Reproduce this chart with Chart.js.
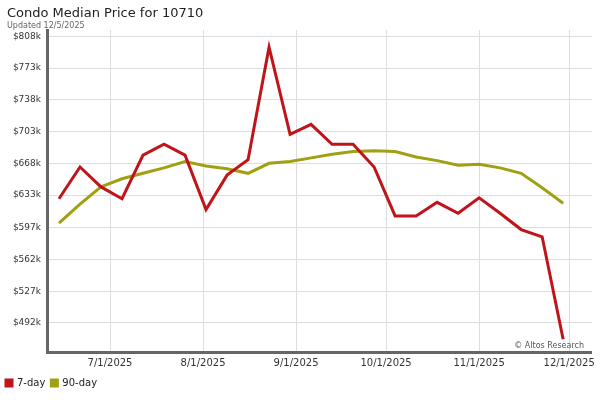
<!DOCTYPE html>
<html>
<head>
<meta charset="utf-8">
<script src="https://cdn.jsdelivr.net/npm/chart.js@4/dist/chart.umd.min.js"></script>
<style>
  body{margin:0;background:#fff;font-family:"DejaVu Sans",sans-serif;}
  #title{position:absolute;left:7px;top:5px;font-size:13px;color:#222;}
  #updated{position:absolute;left:7px;top:21px;font-size:8px;color:#666;}
  #wrap{position:absolute;left:0;top:0;width:600px;height:400px;}
</style>
</head>
<body>
<div id="wrap"><canvas id="c" width="600" height="400"></canvas></div>
<div id="title">Condo Median Price for 10710</div>
<div id="updated">Updated 12/5/2025</div>
<script>
// weekly dates
const dates = ["2025-06-14","2025-06-21","2025-06-28","2025-07-05","2025-07-12","2025-07-19","2025-07-26",
  "2025-08-02","2025-08-09","2025-08-16","2025-08-23","2025-08-30","2025-09-06","2025-09-13","2025-09-20",
  "2025-09-27","2025-10-04","2025-10-11","2025-10-18","2025-10-25","2025-11-01","2025-11-08","2025-11-15",
  "2025-11-22","2025-11-29"];
// values in $k
const sevenDay = [629,664,642,629,677,689,677,617,655,672,796,700,711,689,689,664,610,610,625,613,630,613,595,587,474];
const ninetyDay = [602,623,642,651,657,663,670,665,662,657,668,670,674,678,681,682,681,675,671,666,667,663,657,641,624];

const xTickDates = ["2025-07-01","2025-08-01","2025-09-01","2025-10-01","2025-11-01","2025-12-01"];
const xTickLabels = ["7/1/2025","8/1/2025","9/1/2025","10/1/2025","11/1/2025","12/1/2025"];
const yTickValues = [492,527,562,597,633,668,703,738,773,808];
const yTickLabels = ["$492k","$527k","$562k","$597k","$633k","$668k","$703k","$738k","$773k","$808k"];

function dayNum(s){
  return (Date.parse(s + "T00:00:00Z") - Date.UTC(2025,0,1)) / 86400000;
}
const xDays = dates.map(dayNum);
const xTicks = xTickDates.map(dayNum);

const copyright = {
  id: "copyright",
  afterDraw(chart){
    const {ctx, chartArea} = chart;
    ctx.save();
    ctx.font = "8px 'DejaVu Sans'";
    ctx.fillStyle = "#555";
    ctx.textAlign = "right";
    ctx.fillText("© Altos Research", chartArea.right - 8, chartArea.bottom - 6);
    ctx.restore();
  }
};

new Chart(document.getElementById("c"), {
  type: "line",
  data: {
    datasets: [
      {label: "7-day", data: xDays.map((x,i)=>({x, y: sevenDay[i]})), borderColor: "#c0141b", backgroundColor: "#c0141b", borderWidth: 3, pointRadius: 0, tension: 0},
      {label: "90-day", data: xDays.map((x,i)=>({x, y: ninetyDay[i]})), borderColor: "#a0a012", backgroundColor: "#a0a012", borderWidth: 3, pointRadius: 0, tension: 0}
    ]
  },
  options: {
    responsive: false,
    animation: false,
    layout: {padding: {top: 30, right: 5, left: 0, bottom: 2}},
    plugins: {
      legend: {
        position: "bottom", align: "start",
        labels: {boxWidth: 6, boxHeight: 6, font: {size: 10, family: "DejaVu Sans"}, color: "#222", padding: 6}
      },
      tooltip: {enabled: false}
    },
    scales: {
      x: {
        type: "linear", min: 160, max: 341.6,
        afterBuildTicks: axis => { axis.ticks = xTicks.map(v => ({value: v})); },
        afterFit: axis => { axis.height = 20; },
        ticks: {callback: (v) => xTickLabels[xTicks.indexOf(v)], font: {size: 10, family: "DejaVu Sans"}, color: "#333", maxRotation: 0, padding: 5},
        grid: {color: "#dddddd", drawTicks: false},
        border: {color: "#666", width: 3}
      },
      y: {
        min: 460, max: 815,
        afterBuildTicks: axis => { axis.ticks = yTickValues.map(v => ({value: v})); },
        afterFit: axis => { axis.width = 47; },
        ticks: {callback: (v) => yTickLabels[yTickValues.indexOf(v)], font: {size: 9, family: "DejaVu Sans"}, color: "#333", padding: 6},
        grid: {color: "#dddddd", drawTicks: false},
        border: {color: "#666", width: 3}
      }
    }
  },
  plugins: [copyright]
});
</script>
</body>
</html>
